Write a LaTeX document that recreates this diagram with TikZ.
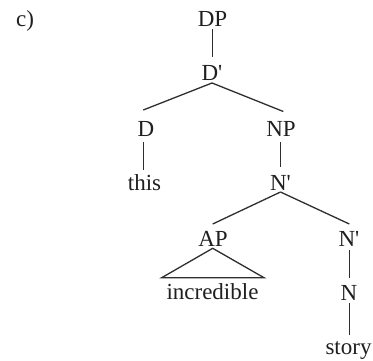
\documentclass[tikz,border=0pt]{standalone}
\usepackage{fontspec}
\setmainfont{Liberation Serif}
\begin{document}
\begin{tikzpicture}[x=1pt,y=-1pt,
  lbl/.style={anchor=base,inner sep=0pt,text=black!88,font=\fontsize{23}{26}\selectfont},
  edge/.style={draw=black!82,line width=1.3pt}]
\useasboundingbox (0,0) rectangle (373,361);
\node[lbl,anchor=base west] (lab) at (16,27) {c)};
\node[lbl] (DP) at (212.5,27) {DP};
\node[lbl] (Db) at (212,81) {D\textquotesingle};
\node[lbl] (D) at (146,137) {D};
\node[lbl] (NP) at (281,137) {NP};
\node[lbl] (this) at (144.5,190.5) {this};
\node[lbl] (Nb) at (280.5,191) {N\textquotesingle};
\node[lbl] (AP) at (213,246.5) {AP};
\node[lbl] (incr) at (212.5,300) {incredible};
\node[lbl] (Nb2) at (349,246.5) {N\textquotesingle};
\node[lbl] (N) at (349,300.5) {N};
\node[lbl] (story) at (348.5,354) {story};
\draw[edge] ([yshift=-2pt]DP.base) -- ([yshift=24pt,xshift=0.5pt]Db.base);
\draw[edge] ([yshift=-2pt]Db.base) -- ([xshift=-2.7pt,yshift=27pt]D.base);
\draw[edge] ([yshift=-2pt]Db.base) -- ([xshift=2.3pt,yshift=25.5pt]NP.base);
\draw[edge] ([xshift=-2.7pt,yshift=-5pt]D.base) -- ([xshift=-1.2pt,yshift=20.5pt]this.base);
\draw[edge] ([xshift=-0.5pt,yshift=-5pt]NP.base) -- ([yshift=24pt]Nb.base);
\draw[edge] ([yshift=-1pt]Nb.base) -- ([xshift=-0.3pt,yshift=22.5pt]AP.base);
\draw[edge] ([yshift=-1pt]Nb.base) -- ([xshift=0.3pt,yshift=22.5pt]Nb2.base);
\draw[edge,line join=miter] ([xshift=-0.3pt,yshift=-1.8pt]AP.base) -- ([xshift=-50.8pt,yshift=22.3pt]incr.base) -- ([xshift=51.5pt,yshift=22.3pt]incr.base) -- cycle;
\draw[edge] ([xshift=0.3pt,yshift=-3.5pt]Nb2.base) -- ([xshift=0.3pt,yshift=22.5pt]N.base);
\draw[edge] ([xshift=0.3pt,yshift=-2.5pt]N.base) -- ([xshift=0.8pt,yshift=19pt]story.base);
\end{tikzpicture}
\end{document}
